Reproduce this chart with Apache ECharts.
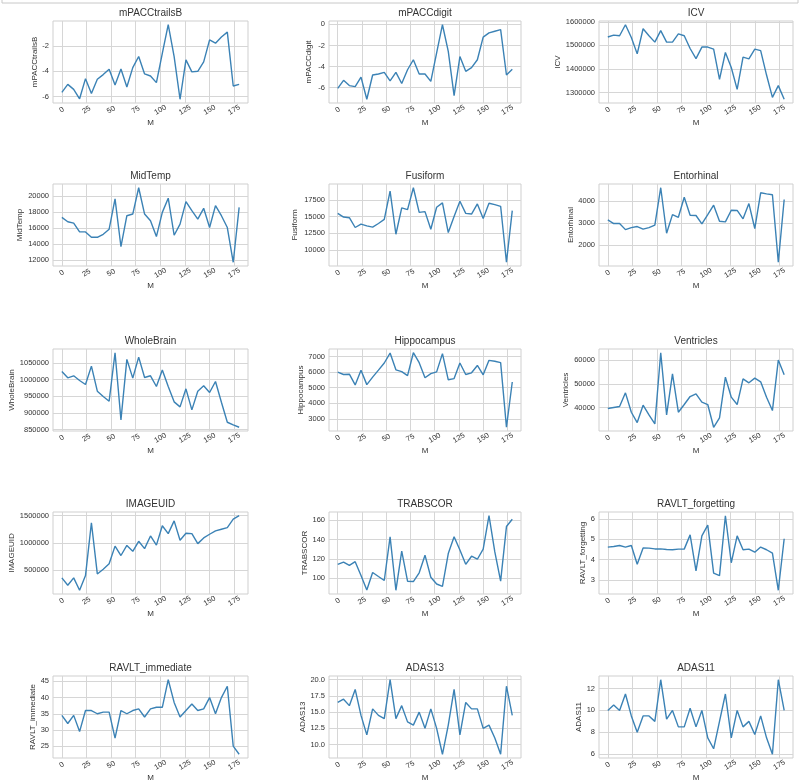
<!DOCTYPE html>
<html><head><meta charset="utf-8">
<script src="https://cdn.jsdelivr.net/npm/echarts@6/dist/echarts.min.js"></script>
<style>html,body{margin:0;padding:0;background:#fff}#c{width:801px;height:784px}</style>
</head><body><div id="c"></div><script>
const months = [0,6,12,18,24,30,36,42,48,54,60,66,72,78,84,90,96,102,108,114,120,126,132,138,144,150,156,162,168,174,180];
const xTicks = [0,25,50,75,100,125,150,175];

const mPACCtrailsB = [-5.66,-5.03,-5.42,-6.16,-4.58,-5.74,-4.63,-4.26,-3.84,-5.08,-3.82,-5.24,-3.71,-2.84,-4.21,-4.37,-4.89,-2.6,-0.34,-2.84,-6.2,-3.1,-4.05,-4.0,-3.26,-1.53,-1.79,-1.3,-0.92,-5.16,-5.03];
const mPACCdigit = [-6.06,-5.3,-5.8,-5.9,-5.0,-7.1,-4.8,-4.7,-4.55,-5.35,-4.55,-5.6,-4.3,-3.35,-4.7,-4.7,-5.4,-2.7,-0.03,-2.55,-6.75,-3.05,-4.45,-4.1,-3.35,-1.2,-0.8,-0.65,-0.5,-4.8,-4.25];
const ICV = [1535700,1544000,1541000,1588000,1534000,1464000,1571000,1541000,1514000,1563000,1514000,1514000,1549000,1541000,1487000,1444000,1493000,1493000,1484000,1356000,1470000,1406000,1313000,1450000,1443000,1484000,1478000,1374000,1279000,1329000,1271000];
const MidTemp = [17340,16790,16620,15520,15520,14840,14840,15220,15860,19660,13660,17550,17760,21060,17760,16910,14930,17970,19750,15100,16490,19320,18180,17120,18480,16070,18820,17550,16070,11710,18600];
const Fusiform = [15510,14950,14850,13370,13880,13620,13420,13980,14590,18880,12350,16330,16070,19390,15660,15770,13110,16430,17090,12600,15050,17350,15510,15410,16940,14740,17040,16840,16580,8110,15920];
const Entorhinal = [3150,2985,2985,2710,2800,2850,2730,2800,2910,4610,2545,3390,3270,4180,3360,3350,2970,3390,3820,3090,3060,3590,3580,3200,3890,2760,4380,4330,4290,1230,4075];
const WholeBrain = [1024000,1005000,1011000,997000,985000,1040000,965000,949000,935000,1080000,879000,1060000,1004000,1067000,1006000,1011000,979000,1028000,979000,933000,918000,972000,909000,965000,981000,961000,994000,932000,872000,864000,857000];
const Hippocampus = [6000,5850,5870,5180,6130,5200,5680,6130,6590,7230,6150,6040,5780,7250,6610,5640,5910,6020,7190,5510,5590,6590,5850,5960,6430,5830,6760,6700,6610,2460,5370];
const Ventricles = [39580,40000,40420,46200,38030,33660,40990,36900,33100,63100,36900,54230,38030,41270,44650,45770,42250,41270,31690,35630,52820,44370,41270,52110,50420,52390,50850,44370,38730,60000,53800];
const IMAGEUID = [359000,224000,359000,132000,402000,1371000,432000,518000,617000,942000,770000,954000,847000,1031000,896000,1129000,960000,1316000,1172000,1405000,1049000,1178000,1172000,988000,1092000,1160000,1221000,1252000,1283000,1436000,1500000];
const TRABSCOR = [114.3,116.7,113.2,117.1,102.8,87.8,105.9,101.7,97.6,142.8,87.5,128,96.9,96.5,105.6,123.8,101,94,91.6,125.5,142.8,129.1,114.3,122.7,119.6,130,164.6,127.2,96.9,153.4,161];
const RAVLT_forgetting = [4.61,4.64,4.69,4.61,4.69,3.77,4.57,4.56,4.52,4.52,4.49,4.48,4.51,4.51,5.21,3.44,5.16,5.69,3.33,3.21,6.15,3.84,5.16,4.48,4.51,4.36,4.61,4.48,4.31,2.49,5.02];
const RAVLT_immediate = [34.5,32,34.5,29.5,36,36,35,35.5,35.5,27.5,36,35,36,36.5,34,36.5,37,37,45.5,38.5,34,36,38,36,36.5,40,35,40,43.5,25,22.5];
const ADAS13 = [16.5,17,16,18.5,14.5,11.5,15.5,14.5,14,20,14,16,13.5,13,15,12.5,15.5,12.5,8.5,13,18.5,11.5,16.5,15.5,15.5,12.5,13,11,8.5,19,14.5];
const ADAS11 = [10,10.5,10,11.5,9.5,8,9.5,9.5,9,12.8,9.2,10,8.5,8.5,10.2,8.5,10,7.5,6.5,9,11.5,7.5,10,8.5,9,7.8,9.5,7.5,6,12.8,10];

const yTicks_mPACCtrailsB = [-6,-4,-2];
const yTicks_mPACCdigit = [-6,-4,-2,0];
const yTicks_ICV = [1300000,1400000,1500000,1600000];
const yTicks_MidTemp = [12000,14000,16000,18000,20000];
const yTicks_Fusiform = [7500,10000,12500,15000,17500,20000];
const yTicks_Entorhinal = [2000,3000,4000];
const yTicks_WholeBrain = [850000,900000,950000,1000000,1050000];
const yTicks_Hippocampus = [3000,4000,5000,6000,7000];
const yTicks_Ventricles = [30000,40000,50000,60000];
const yTicks_IMAGEUID = [500000,1000000,1500000];
const yTicks_TRABSCOR = [100,120,140,160];
const yTicks_RAVLT_forgetting = [3,4,5,6];
const yTicks_RAVLT_immediate = [25,30,35,40,45];
const yTicks_ADAS13 = [10,12.5,15,17.5,20];
const yTicks_ADAS11 = [6,8,10,12];

const panels = [
  ['mPACCtrailsB', mPACCtrailsB, yTicks_mPACCtrailsB, 0, 13],
  ['mPACCdigit', mPACCdigit, yTicks_mPACCdigit, 0, 16],
  ['ICV', ICV, yTicks_ICV, 0, 35],
  ['MidTemp', MidTemp, yTicks_MidTemp, 0, 24],
  ['Fusiform', Fusiform, yTicks_Fusiform, 0, 30],
  ['Entorhinal', Entorhinal, yTicks_Entorhinal, 0, 19],
  ['WholeBrain', WholeBrain, yTicks_WholeBrain, 0, 30],
  ['Hippocampus', Hippocampus, yTicks_Hippocampus, 0, 20],
  ['Ventricles', Ventricles, yTicks_Ventricles, 0, 22],
  ['IMAGEUID', IMAGEUID, yTicks_IMAGEUID, 0, 30],
  ['TRABSCOR', TRABSCOR, yTicks_TRABSCOR, 0, 18],
  ['RAVLT_forgetting', RAVLT_forgetting, yTicks_RAVLT_forgetting, 0, 8],
  ['RAVLT_immediate', RAVLT_immediate, yTicks_RAVLT_immediate, 0, 10],
  ['ADAS13', ADAS13, yTicks_ADAS13, 1, 16],
  ['ADAS11', ADAS11, yTicks_ADAS11, 0, 10]
];

const colLeft = [53, 329, 599];
const colWidth = [195, 192, 194];
const rowTop = [21, 184, 349, 512, 676];
const plotH = 82;
const FONT = 'Liberation Sans, Arial, sans-serif';
const TXT = '#333';
const GRIDC = '#d6d6d6';
const LINEC = '#3b82b5';

const option = {
  backgroundColor: '#fff',
  animation: false,
  textStyle: { fontFamily: FONT },
  title: [], grid: [], xAxis: [], yAxis: [], series: [],
  graphic: [{ type: 'rect', shape: { x: 2, y: -4, width: 796, height: 7 }, style: { fill: 'none', stroke: '#c8c8c8', lineWidth: 1 } }]
};

panels.forEach((p, i) => {
  const [name, vals, ticks, dec, yGap] = p;
  const r = Math.floor(i / 3), c = i % 3;
  const left = colLeft[c], top = rowTop[r], w = colWidth[c];
  let mn = Math.min(...vals), mx = Math.max(...vals);
  const rg = mx - mn;
  mn -= rg * 0.05; mx += rg * 0.05;
  option.title.push({ text: name, left: left + w / 2, top: top - 13, textAlign: 'center', padding: 0,
    textStyle: { fontFamily: FONT, fontSize: 10, fontWeight: 'normal', color: TXT } });
  option.grid.push({ left: left, top: top, width: w, height: plotH, show: true, borderColor: '#cfcfcf', borderWidth: 1, backgroundColor: '#fff', outerBoundsMode: 'none' });
  option.xAxis.push({ type: 'value', gridIndex: i, min: -9, max: 189,
    name: 'M', nameLocation: 'middle', nameGap: 16, nameTextStyle: { fontFamily: FONT, fontSize: 8, color: TXT },
    axisLine: { show: false }, axisTick: { show: false, customValues: xTicks },
    axisLabel: { customValues: xTicks, rotate: 30, fontSize: 7.5, color: TXT, fontFamily: FONT, margin: 7, align: 'center', verticalAlign: 'middle' },
    splitLine: { show: true, lineStyle: { color: GRIDC, width: 1 } } });
  option.yAxis.push({ type: 'value', gridIndex: i, min: mn, max: mx,
    name: name, nameLocation: 'middle', nameGap: yGap, nameRotate: 90, nameTextStyle: { fontFamily: FONT, fontSize: 8, color: TXT },
    axisLine: { show: false }, axisTick: { show: false, customValues: ticks },
    axisLabel: { customValues: ticks, fontSize: 7.5, color: TXT, fontFamily: FONT, margin: 4,
      formatter: v => Number(v).toFixed(dec) },
    splitLine: { show: true, lineStyle: { color: GRIDC, width: 1 } } });
  option.series.push({ type: 'line', xAxisIndex: i, yAxisIndex: i, data: months.map((m, k) => [m, vals[k]]),
    showSymbol: false, symbol: 'none', lineStyle: { color: LINEC, width: 1.4 }, itemStyle: { color: LINEC } });
});

const chart = echarts.init(document.getElementById('c'), null, { renderer: 'canvas' });
chart.setOption(option);
</script></body></html>
